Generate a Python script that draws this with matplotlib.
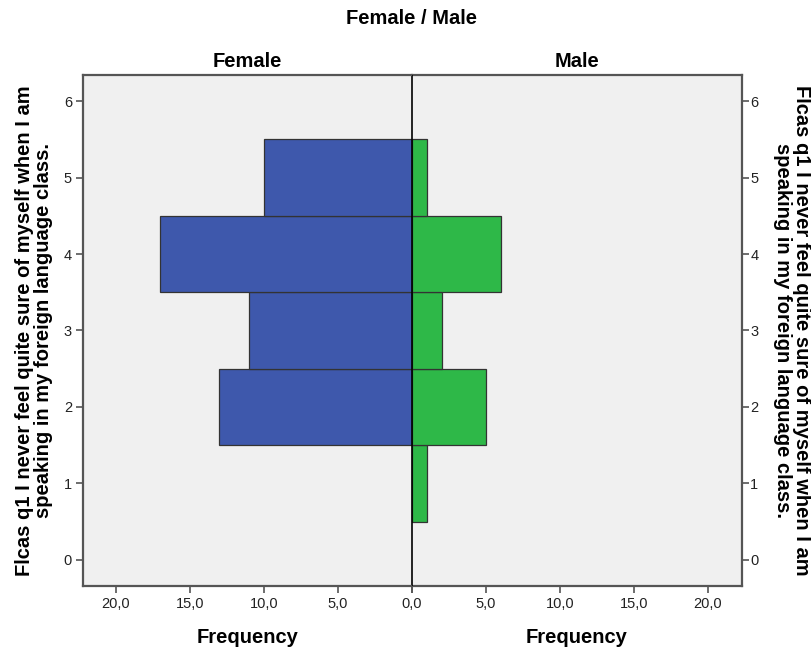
import matplotlib
matplotlib.use("Agg")
import matplotlib.pyplot as plt

categories = [1, 2, 3, 4, 5]
female = [0, 13, 11, 17, 10]
male = [1, 5, 2, 6, 1]
xticks = [0, 5, 10, 15, 20]
xtick_labels = ["0,0", "5,0", "10,0", "15,0", "20,0"]
yticks = [0, 1, 2, 3, 4, 5, 6]

plt.rcParams['font.family'] = ['Liberation Sans', 'DejaVu Sans']

fig = plt.figure(figsize=(8.12, 6.51), dpi=100)
W, H = 812, 651
L, C, R, T, B = 83, 412, 742, 75, 586
axL = fig.add_axes([L / W, 1 - B / H, (C - L) / W, (B - T) / H])
axR = fig.add_axes([C / W, 1 - B / H, (R - C) / W, (B - T) / H])

bg = '#f0f0f0'
blue = '#3e58ac'
green = '#2eb848'
frame = '#555555'
bfs = 14.5

for ax in (axL, axR):
    ax.set_facecolor(bg)
    ax.set_ylim(-0.34, 6.34)
    ax.set_yticks(yticks)
    ax.set_xticks(xticks)
    ax.tick_params(axis='both', direction='out', length=5, width=1.2,
                   color=frame, labelsize=10.5, labelcolor='#222222', pad=3)
    for s in ax.spines.values():
        s.set_color(frame)
        s.set_linewidth(1.6)
    ax.set_xlabel('Frequency', fontsize=bfs, fontweight='bold', labelpad=12)

axL.set_xticklabels(xtick_labels)
axR.set_xticklabels([""] + xtick_labels[1:])

axL.set_xlim(22.2, 0)
axR.set_xlim(0, 22.3)

axL.barh(categories, female, height=1.0, color=blue, edgecolor='#333333', linewidth=0.9, zorder=2)
axR.barh(categories, male, height=1.0, color=green, edgecolor='#333333', linewidth=0.9, zorder=2)

axL.spines['right'].set_visible(False)
axR.spines['left'].set_visible(False)
axL.axvline(0, color='black', linewidth=1.2, zorder=3)
axR.axvline(0, color='black', linewidth=1.2, zorder=3)

axL.yaxis.tick_left()
axR.yaxis.tick_right()
axR.tick_params(axis='y', left=False, right=True, labelleft=False, labelright=True, pad=1)

ylabel = "Flcas q1 I never feel quite sure of myself when I am\nspeaking in my foreign language class."
axL.set_ylabel(ylabel, fontsize=bfs, fontweight='bold', labelpad=8, linespacing=1.0)
axR.yaxis.set_label_position('right')
axR.set_ylabel(ylabel, fontsize=bfs, fontweight='bold', rotation=-90,
               labelpad=38, linespacing=1.0)

axL.set_title('Female', fontsize=bfs, fontweight='bold', pad=6)
axR.set_title('Male', fontsize=bfs, fontweight='bold', pad=6)
fig.text(C / W, 1 - 18 / H, 'Female / Male', ha='center', va='center',
         fontsize=bfs, fontweight='bold')

fig.savefig('out.png', dpi=100, facecolor='white')
